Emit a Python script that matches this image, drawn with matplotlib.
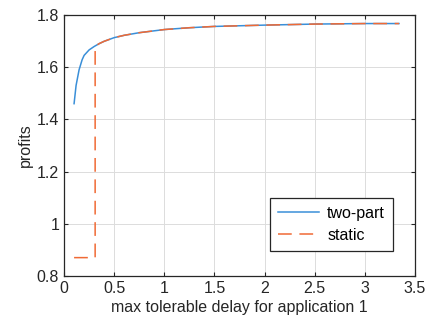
import matplotlib
matplotlib.use("Agg")
import matplotlib.pyplot as plt

plt.rcParams["font.family"] = ["Liberation Sans", "DejaVu Sans"]

# two-part pricing curve
x_two = [0.1, 0.12, 0.15, 0.18, 0.2, 0.25, 0.3, 0.35, 0.4, 0.5, 0.6, 0.75,
         1.0, 1.25, 1.5, 2.0, 2.5, 3.0, 3.34]
y_two = [1.46, 1.53, 1.59, 1.628, 1.645, 1.666, 1.679, 1.69, 1.699, 1.713,
         1.722, 1.732, 1.744, 1.751, 1.756, 1.761, 1.765, 1.767, 1.767]

# static pricing curve
x_static = [0.1, 0.31, 0.31, 0.35, 0.4, 0.5, 0.6, 0.75, 1.0, 1.25, 1.5,
            2.0, 2.5, 3.0, 3.34]
y_static = [0.87, 0.87, 1.68, 1.69, 1.699, 1.713, 1.722, 1.732, 1.744,
            1.751, 1.756, 1.761, 1.765, 1.767, 1.767]

fig = plt.figure(figsize=(4.27, 3.32), dpi=100)
ax = fig.add_axes([0.150, 0.169, 0.822, 0.786])

ax.plot(x_two, y_two, color="#3a8fd8", linewidth=1.1, label="two-part")
ax.plot(x_static, y_static, color="#f06a35", linewidth=1.1,
        dashes=(9, 5), label="static")

ax.set_xlim(0, 3.5)
ax.set_ylim(0.8, 1.8)
ax.set_xticks([0, 0.5, 1, 1.5, 2, 2.5, 3, 3.5])
ax.set_xticklabels(["0", "0.5", "1", "1.5", "2", "2.5", "3", "3.5"])
ax.set_yticks([0.8, 1, 1.2, 1.4, 1.6, 1.8])
ax.set_yticklabels(["0.8", "1", "1.2", "1.4", "1.6", "1.8"])
ax.tick_params(direction="in", top=True, right=True, length=3,
               labelsize=11.5, colors="#262626")
ax.grid(color="#dcdcdc", linewidth=0.7)
for s in ax.spines.values():
    s.set_color("#262626")
    s.set_linewidth(0.9)

ax.set_xlabel("max tolerable delay for application 1", fontsize=11.5,
              color="#262626", labelpad=3)
ax.set_ylabel("profits", fontsize=11.5, color="#262626", labelpad=3)

leg = ax.legend(loc="lower right", bbox_to_anchor=(0.96, 0.065),
                fontsize=11.5, fancybox=False, framealpha=1,
                edgecolor="#262626", handlelength=2.6, borderpad=0.5,
                labelspacing=0.45, handletextpad=0.5)
leg.get_frame().set_linewidth(0.9)

fig.savefig("out.png", dpi=100)
